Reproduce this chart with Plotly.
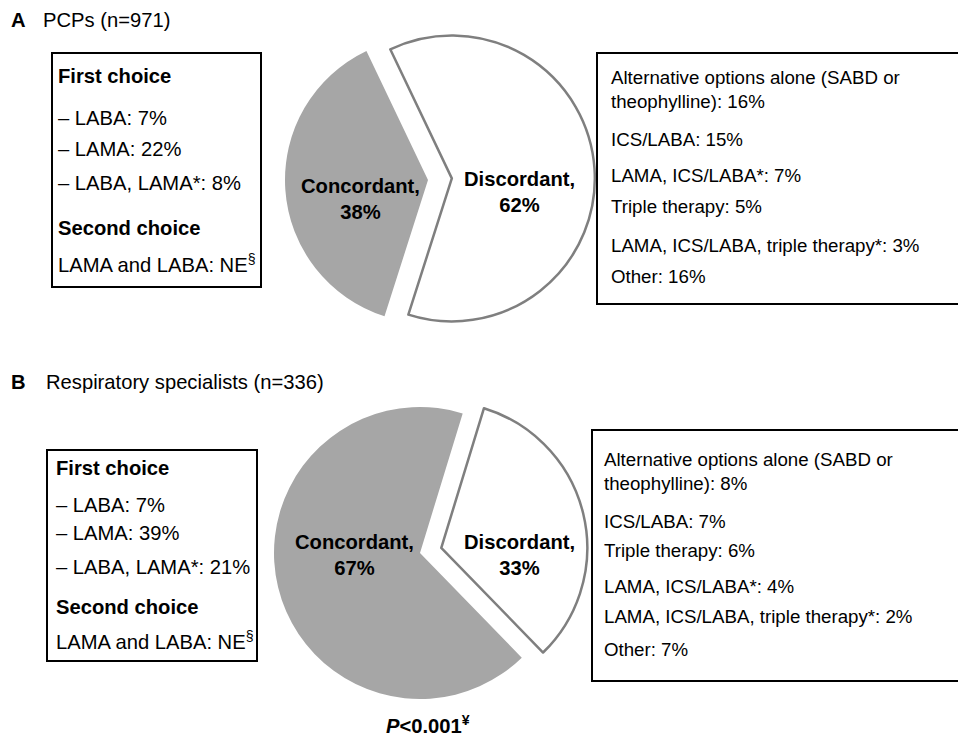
import plotly.graph_objects as go

# page body has an 8px margin, so the figure is drawn 8px in from the top-left corner
OFF = 8
W, H = 966 - OFF, 738 - OFF

# ---------------- data ----------------
pie_labels = ["Concordant", "Discordant"]
pcp_values = [38, 62]
resp_values = [67, 33]

pcp_title = "PCPs (n=971)"
resp_title = "Respiratory specialists (n=336)"

pcp_first = ["– LABA: 7%", "– LAMA: 22%", "– LABA, LAMA*: 8%"]
resp_first = ["– LABA: 7%", "– LAMA: 39%", "– LABA, LAMA*: 21%"]
second_choice = "LAMA and LABA: NE<sup>§</sup>"

pcp_discordant = [
    "Alternative options alone (SABD or<br>theophylline): 16%",
    "ICS/LABA: 15%",
    "LAMA, ICS/LABA*: 7%",
    "Triple therapy: 5%",
    "LAMA, ICS/LABA, triple therapy*: 3%",
    "Other: 16%",
]
resp_discordant = [
    "Alternative options alone (SABD or<br>theophylline): 8%",
    "ICS/LABA: 7%",
    "Triple therapy: 6%",
    "LAMA, ICS/LABA*: 4%",
    "LAMA, ICS/LABA, triple therapy*: 2%",
    "Other: 7%",
]
p_value = "<b><i>P</i><0.001<sup>¥</sup></b>"

# ---------------- style ----------------
FONT = "Liberation Sans, Arial, sans-serif"
BIG = 20.2     # titles, left boxes, pie labels
SMALL = 18.7   # right boxes
GRAY = "#a6a6a6"
EDGE = "#7f7f7f"


def px(x):
    return (x - OFF) / W


def py(y):
    return 1 - (y - OFF) / H


fig = go.Figure()


def add_pie(values, cx, cy, r, pull, rotation):
    half = r * (1 + pull)
    fig.add_trace(go.Pie(
        labels=pie_labels,
        values=values,
        sort=False,
        direction="clockwise",
        rotation=rotation,
        pull=[0, pull],
        marker=dict(colors=[GRAY, "#ffffff"],
                    line=dict(color=[GRAY, EDGE], width=[0, 2.5])),
        textinfo="none",
        hoverinfo="label+percent",
        showlegend=False,
        domain=dict(x=[px(cx - half), px(cx + half)],
                    y=[py(cy + half), py(cy - half)]),
    ))


add_pie(pcp_values, 428, 180, 143, 0.167, 197.7)
add_pie(resp_values, 420, 553, 146, 0.15, 135.8)

annotations = []
shapes = []


def text(x, y, s, size=BIG, anchor="left", bold=False):
    if bold:
        s = f"<b>{s}</b>"
    annotations.append(dict(
        x=px(x), y=py(y), xref="paper", yref="paper", text=s,
        showarrow=False, xanchor=anchor, yanchor="middle",
        align="center" if anchor == "center" else anchor,
        borderpad=0,
        font=dict(family=FONT, size=size, color="#000000"),
    ))


def box(x0, y0, x1, y1):
    shapes.append(dict(type="rect", xref="paper", yref="paper",
                       x0=px(x0), x1=px(x1), y0=py(y1), y1=py(y0),
                       line=dict(color="#000000", width=2),
                       fillcolor="rgba(0,0,0,0)"))


# panel titles
text(10, 20, "<b>A</b>")
text(42, 20, pcp_title)
text(10, 382, "<b>B</b>")
text(45, 382, resp_title)

# Panel A left box
box(52, 53, 261, 287)
text(57, 76, "First choice", bold=True)
for s, y in zip(pcp_first, [118, 149, 183]):
    text(57, y, s)
text(57, 228, "Second choice", bold=True)
text(57, 263, second_choice)

# Panel A right box
box(597, 53, 985, 304)
for s, y in zip(pcp_discordant, [90, 139, 176, 207, 245, 276]):
    text(610, y, s, size=SMALL)

# Panel B left box
box(47, 450, 257, 661)
text(55, 468, "First choice", bold=True)
for s, y in zip(resp_first, [505, 533, 567]):
    text(55, y, s)
text(55, 607, "Second choice", bold=True)
text(55, 640, second_choice)

# Panel B right box
box(592, 430, 985, 681)
for s, y in zip(resp_discordant, [471, 521, 550, 586, 616, 649]):
    text(603, y, s, size=SMALL)

# pie labels
text(360, 199, f"{pie_labels[0]},<br>{pcp_values[0]}%", anchor="center", bold=True)
text(520, 191.5, f"{pie_labels[1]},<br>{pcp_values[1]}%", anchor="center", bold=True)
text(354, 554.5, f"{pie_labels[0]},<br>{resp_values[0]}%", anchor="center", bold=True)
text(520, 554.5, f"{pie_labels[1]},<br>{resp_values[1]}%", anchor="center", bold=True)

# p-value
text(428, 724, p_value, anchor="center")

fig.update_layout(
    width=W, height=H,
    margin=dict(l=0, r=0, t=0, b=0),
    paper_bgcolor="#ffffff",
    plot_bgcolor="#ffffff",
    annotations=annotations,
    shapes=shapes,
    font=dict(family=FONT),
)

fig.write_html("out.html")
